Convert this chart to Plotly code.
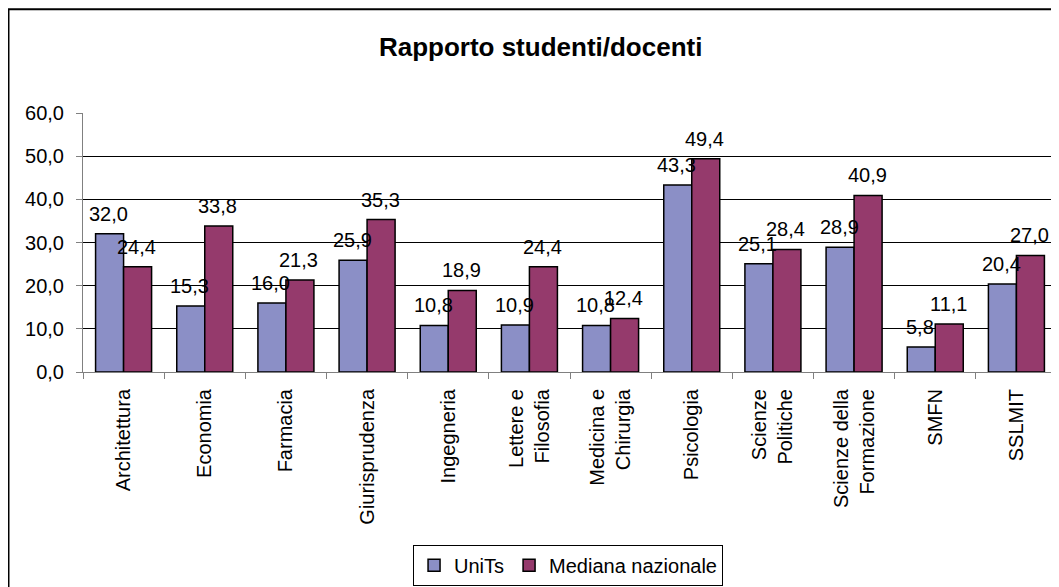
import plotly.graph_objects as go

# Dati
categorie = [
    "Architettura", "Economia", "Farmacia", "Giurisprudenza", "Ingegneria",
    "Lettere e<br>Filosofia", "Medicina e<br>Chirurgia", "Psicologia",
    "Scienze<br>Politiche", "Scienze della<br>Formazione", "SMFN", "SSLMIT",
]
units = [32.0, 15.3, 16.0, 25.9, 10.8, 10.9, 10.8, 43.3, 25.1, 28.9, 5.8, 20.4]
mediana = [24.4, 33.8, 21.3, 35.3, 18.9, 24.4, 12.4, 49.4, 28.4, 40.9, 11.1, 27.0]
y_ticks = [0, 10, 20, 30, 40, 50, 60]

FONT = "Arial, Liberation Sans, sans-serif"
BLU = "#8B8FC6"
ROSSO = "#953A6C"

fig = go.Figure()
fig.add_trace(go.Bar(
    x=categorie, y=units, name="UniTs",
    marker=dict(color=BLU, line=dict(color="black", width=1.5)),
))
fig.add_trace(go.Bar(
    x=categorie, y=mediana, name="Mediana nazionale",
    marker=dict(color=ROSSO, line=dict(color="black", width=1.5)),
))

# etichette dei valori sopra le barre
for serie, shift in ((units, -15), (mediana, 13)):
    for cat, v in zip(categorie, serie):
        fig.add_annotation(
            x=cat, y=v, xref="x", yref="y",
            text=f"{v:.1f}".replace(".", ","),
            showarrow=False, yanchor="bottom", xshift=shift, yshift=7,
            font=dict(family=FONT, size=20, color="black"),
        )

# cornice esterna del grafico (la pagina ha un margine di 8px)
fig.add_shape(
    type="rect", xref="paper", yref="paper",
    x0=-0.0765, x1=1.2, y0=-1.5, y1=1.4004,
    line=dict(color="black", width=2), fillcolor="rgba(0,0,0,0)", layer="below",
)

fig.update_layout(
    width=1059, height=587,
    margin=dict(l=75, r=10, t=105, b=221),
    paper_bgcolor="white", plot_bgcolor="white",
    barmode="group", bargap=0.31, bargroupgap=0,
    separators=",.",
    font=dict(family=FONT, size=20, color="black"),
    title=dict(
        text="<b>Rapporto studenti/docenti</b>",
        x=0.503, xref="container", xanchor="center",
        y=1 - 39 / 587, yref="container", yanchor="middle",
        font=dict(family=FONT, size=26, color="black"),
    ),
    legend=dict(
        orientation="h", x=0.498, xanchor="center", y=-0.667, yanchor="top",
        bordercolor="black", borderwidth=1, bgcolor="white",
        font=dict(family=FONT, size=20, color="black"),
        itemwidth=30,
    ),
    showlegend=True,
)

fig.update_xaxes(
    type="category", tickangle=-90, tickson="boundaries",
    ticks="outside", ticklen=6, tickcolor="gray",
    showline=True, linecolor="gray", linewidth=1,
    showgrid=False, ticklabelstandoff=8,
    tickfont=dict(family=FONT, size=20, color="black"),
)
fig.update_yaxes(
    range=[0, 60], tickvals=y_ticks, tickformat=".1f",
    ticks="outside", ticklen=6, tickcolor="gray",
    showline=True, linecolor="gray", linewidth=1,
    showgrid=True, gridcolor="black", gridwidth=1,
    zeroline=False, ticklabelstandoff=8,
    tickfont=dict(family=FONT, size=20, color="black"),
)

fig.write_html("out.html")
